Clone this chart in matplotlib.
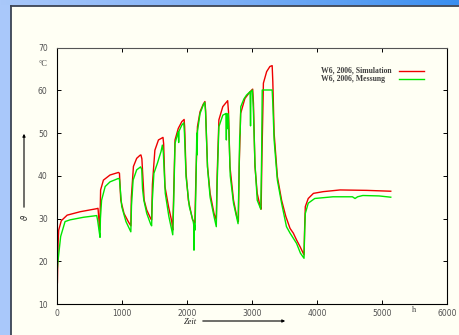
import numpy as np
import matplotlib
matplotlib.use('Agg')
import matplotlib.pyplot as plt
from matplotlib.patches import Rectangle
from matplotlib.lines import Line2D

# W6, 2006 - Simulation (rot)
sim_t = [0, 10, 20, 60, 150, 350, 600, 625, 640, 650, 656, 665, 708, 810, 940, 955, 975, 1025, 1090, 1130,
         1138, 1170, 1220, 1270, 1285, 1300, 1335, 1375, 1435, 1450, 1462, 1500, 1555, 1625, 1635, 1655, 1710,
         1760, 1775, 1788, 1810, 1860, 1915, 1950, 1958, 1980, 2015, 2080, 2115, 2132, 2155, 2195, 2245, 2270,
         2280, 2310, 2350, 2410, 2445, 2458, 2485, 2545, 2620, 2633, 2655, 2710, 2760, 2785, 2797, 2820, 2885,
         2965, 3005, 3017, 3040, 3075, 3120, 3135, 3148, 3170, 3220, 3270, 3305, 3315, 3335, 3385, 3450, 3515,
         3580, 3630, 3680, 3735, 3795, 3805, 3815, 3860, 3940, 4090, 4350, 4760, 5130]
sim_v = [15.0, 24.0, 27.3, 29.5, 30.8, 31.6, 32.3, 32.4, 29.5, 27.3, 30.0, 36.7, 39.0, 40.2, 40.8, 40.6, 34.3,
         31.2, 29.3, 28.3, 35.0, 42.2, 44.1, 44.8, 44.9, 44.0, 34.3, 32.0, 30.0, 29.7, 38.0, 46.0, 48.4, 49.0,
         47.5, 37.5, 32.8, 29.3, 27.3, 35.0, 48.4, 51.1, 52.7, 53.2, 51.5, 40.6, 34.3, 29.7, 29.0, 40.0, 51.5,
         55.0, 56.8, 57.4, 55.5, 42.2, 35.9, 31.2, 29.7, 40.0, 53.1, 56.2, 57.6, 55.0, 42.2, 34.3, 30.5, 29.3,
         42.0, 54.6, 58.1, 59.7, 60.3, 57.0, 42.2, 35.9, 32.8, 32.2, 45.0, 61.7, 64.4, 65.6, 65.8, 62.0, 50.0,
         39.8, 34.3, 30.5, 27.7, 26.6, 25.0, 23.4, 21.5, 28.0, 32.8, 34.7, 35.9, 36.3, 36.7, 36.6, 36.4]

# W6, 2006 - Messung (gruen)
mes_t = [0, 5, 50, 118, 195, 400, 605, 620, 640, 656, 662, 680, 735, 810, 940, 955, 990, 1055, 1130, 1140,
         1165, 1220, 1280, 1298, 1310, 1330, 1375, 1435, 1450, 1460, 1485, 1540, 1570, 1595, 1615, 1630, 1660,
         1715, 1775, 1788, 1810, 1850, 1860, 1866, 1872, 1915, 1945, 1955, 1980, 2030, 2090, 2098, 2102, 2106,
         2118, 2132, 2145, 2150, 2156, 2195, 2245, 2268, 2280, 2310, 2350, 2410, 2445, 2458, 2485, 2545, 2595,
         2600, 2604, 2620, 2625, 2630, 2640, 2660, 2710, 2780, 2795, 2805, 2812, 2822, 2870, 2910, 2965, 2972,
         2978, 3000, 3015, 3040, 3075, 3130, 3143, 3152, 3305, 3315, 3335, 3385, 3450, 3525, 3580, 3680, 3740,
         3795, 3805, 3815, 3860, 3960, 4240, 4540, 4580, 4620, 4700, 4950, 5130]
mes_v = [18.5, 19.5, 25.8, 29.3, 29.7, 30.3, 30.7, 29.5, 27.3, 25.6, 30.0, 34.3, 37.5, 38.6, 39.4, 39.2, 32.8,
         29.3, 26.9, 33.0, 39.0, 41.4, 42.1, 41.5, 37.0, 34.3, 31.2, 28.7, 28.3, 34.0, 40.6, 43.0, 44.5, 45.7,
         47.2, 45.5, 35.9, 30.5, 26.2, 33.0, 47.6, 49.8, 50.3, 47.8, 50.5, 51.9, 52.4, 50.0, 39.8, 32.8, 29.3,
         28.5, 22.6, 28.8, 27.3, 38.0, 50.0, 44.9, 50.5, 54.6, 56.6, 57.2, 55.0, 42.0, 35.0, 30.5, 28.1, 38.0,
         51.5, 54.2, 54.6, 48.4, 54.6, 54.3, 51.0, 54.5, 50.0, 40.0, 33.6, 28.8, 40.0, 49.1, 50.0, 56.2, 58.0,
         58.9, 59.7, 51.7, 59.7, 60.1, 56.0, 43.0, 34.3, 32.2, 45.0, 60.1, 60.1, 57.0, 48.4, 39.0, 33.6, 28.1,
         26.6, 24.2, 21.9, 20.7, 27.0, 31.2, 33.6, 34.7, 35.1, 35.1, 34.7, 35.1, 35.4, 35.3, 35.0]

labels = ['W6, 2006, Simulation', 'W6, 2006, Messung']
colors = ['#ee0000', '#00e600']
x_ticks = [0, 1000, 2000, 3000, 4000, 5000, 6000]
y_ticks = [10, 20, 30, 40, 50, 60, 70]

W, H = 459, 335
fig = plt.figure(figsize=(W / 100, H / 100), dpi=100)
fig.patch.set_facecolor('#a9c8fa')

# Rahmen: Farbverlauf oben, helle Leiste links, cremefarbene Flaeche
bg = fig.add_axes([0, 0, 1, 1], zorder=-5)
bg.set_xlim(0, W)
bg.set_ylim(H, 0)
bg.axis('off')
grad = np.linspace(0, 1, 256).reshape(1, -1)
cmap = matplotlib.colors.LinearSegmentedColormap.from_list('frame', ['#a9c8fa', '#7eb0f6', '#3a8ff0'])
bg.imshow(grad, cmap=cmap, extent=(0, W, 5.5, 0), aspect='auto')
bg.add_patch(Rectangle((10.5, 5.5), W, H, facecolor='#fffff4', edgecolor='none'))
bg.plot([10.5, 10.5], [H, 5.5], color='#3c4454', lw=1.3)
bg.plot([10.5, W], [5.5, 5.5], color='#3c4454', lw=1.3)

ax = fig.add_axes([57.4 / W, 1 - 304 / H, 389.9 / W, 256.3 / H])
ax.set_facecolor('#fffff4')
ax.plot(sim_t, sim_v, color=colors[0], lw=1.0)
ax.plot(mes_t, mes_v, color=colors[1], lw=1.0)

ax.set_xlim(0, 6000)
ax.set_ylim(10, 70)
ax.set_xticks(x_ticks)
ax.set_yticks(y_ticks)
ax.tick_params(direction='in', length=3, width=0.7, top=True, right=True,
               labelsize=5.5, labelcolor='#505050')
ax.tick_params(axis='y', pad=7)
ax.tick_params(axis='x', pad=3.5)
for s in ax.spines.values():
    s.set_linewidth(0.8)
ax.spines['top'].set_color('#555555')

# Legende wie bei gnuplot: Text links, Linie rechts
for i, (lab, col) in enumerate(zip(labels, colors)):
    yy = 70.5 + i * 8.3
    fig.text(321 / W, 1 - yy / H, lab, fontsize=5.6, family='Liberation Serif', weight='bold',
             color='#404040', ha='left', va='center')
    fig.add_artist(Line2D([399 / W, 424 / W], [1 - yy / H, 1 - yy / H], color=col, lw=1.0,
                          transform=fig.transFigure))

# Einheiten und Achsenbeschriftungen
fig.text(43 / W, 1 - 64 / H, '°C', fontsize=6, family='Liberation Serif', color='#404040',
         ha='center', va='center')
fig.text(414 / W, 1 - 310 / H, 'h', fontsize=6, family='Liberation Serif', color='#404040',
         ha='center', va='center')
fig.text(24 / W, 1 - 217 / H, r'$\vartheta$', fontsize=6, rotation=90, color='#202020',
         ha='center', va='center')
fig.text(190 / W, 1 - 322 / H, 'Zeit', fontsize=6, family='Liberation Serif', style='italic',
         color='#202020', ha='center', va='center')
ax.annotate('', xy=(24, H - 131), xytext=(24, H - 210), xycoords='figure pixels',
            arrowprops=dict(arrowstyle='-|>', lw=0.8, color='black', mutation_scale=4))
ax.annotate('', xy=(288, H - 321), xytext=(200, H - 321), xycoords='figure pixels',
            arrowprops=dict(arrowstyle='-|>', lw=0.8, color='black', mutation_scale=4))

fig.savefig('out.png', dpi=100, facecolor=fig.get_facecolor())
